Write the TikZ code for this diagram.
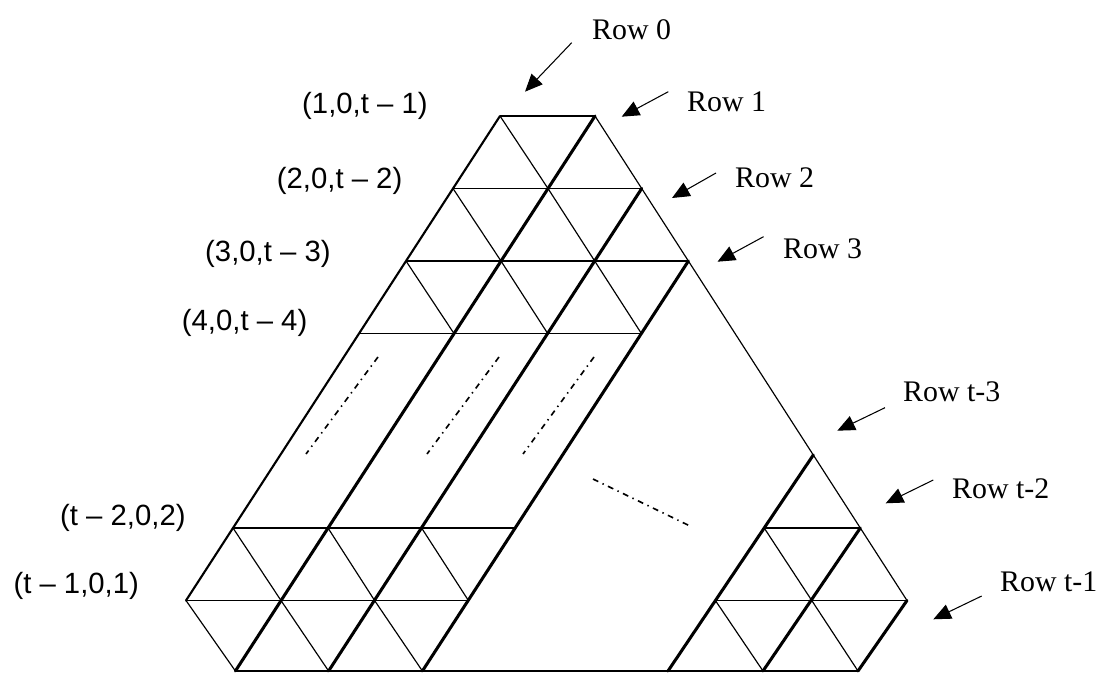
\documentclass[tikz,border=0pt]{standalone}
\usepackage{fontspec}
\setmainfont{Liberation Serif}
\newfontfamily\lsans{Liberation Sans}
\usetikzlibrary{arrows.meta}
\begin{document}
\begin{tikzpicture}[x=0.03cm,y=-0.03cm,
  latthin/.style={line width=1.0pt},
  latthick/.style={line width=2.6pt,line cap=round},
  latedge/.style={line width=1.8pt,line cap=round},
  lathor/.style={line width=1.6pt},
  dotline/.style={line width=1.4pt,dash pattern=on 5pt off 4pt on 1.2pt off 4pt},
  rowlab/.style={anchor=base west,inner sep=0pt,font=\fontsize{25.5}{30}\selectfont},
  coordlab/.style={anchor=base west,inner sep=0pt,font=\lsans\fontsize{25}{30}\selectfont},
  pointer/.style={line width=0.9pt,-{Triangle[length=15pt,width=13pt]}}
]
\useasboundingbox (0,0) rectangle (1113,675);
% lattice points
\coordinate (A0) at (500,116);   \coordinate (B0) at (595,116);
\coordinate (A1) at (453,188.5); \coordinate (B1) at (548,188.5); \coordinate (R1) at (641.7,188.5);
\coordinate (A2) at (406,261);   \coordinate (B2) at (501,261);   \coordinate (C2) at (594.7,261); \coordinate (R2) at (688.4,261);
\coordinate (A3) at (359,333.5); \coordinate (B3) at (454,333.5); \coordinate (C3) at (547.7,333.5); \coordinate (D3) at (641.4,333.5);
\coordinate (Aa) at (233,528);   \coordinate (Ba) at (328,528);   \coordinate (Ca) at (421.6,528); \coordinate (Da) at (515.4,528);
\coordinate (Ab) at (186,600.5); \coordinate (Bb) at (281,600.5); \coordinate (Cb) at (374.6,600.5); \coordinate (Db) at (468.4,600.5);
\coordinate (Bc) at (235.4,671); \coordinate (Cc) at (328.6,671); \coordinate (Dc) at (422.4,671);
% right part
\coordinate (P) at (813.3,455);
\coordinate (Ea) at (764.2,528); \coordinate (Ra) at (860.3,528);
\coordinate (Eb) at (715.4,600.5); \coordinate (Rb) at (907,600.5);
\coordinate (Ec0) at (668,671); \coordinate (Ec1) at (763,671); \coordinate (Ec2) at (858,671);
% horizontal lines
\draw[lathor] (A0) -- (B0);
\draw[lathor] (A1) -- (R1);
\draw[lathor] (A2) -- (R2);
\draw[lathor] (A3) -- (D3);
\draw[lathor] (Aa) -- (Da);
\draw[lathor] (Ab) -- (Db);
\draw[lathor] (Ea) -- (Ra);
\draw[lathor] (Eb) -- (Rb);
\draw[latedge] (Bc) -- (Ec2);
% thin down-right lines
\draw[latthin] (B0) -- (Rb);
\draw[latthin] (A0) -- (B1);
\draw[latthin] (A1) -- (B2);
\draw[latthin] (B1) -- (C2);
\draw[latthin] (A2) -- (B3);
\draw[latthin] (B2) -- (C3);
\draw[latthin] (C2) -- (D3);
\draw[latthin] (Aa) -- (Bb);
\draw[latthin] (Ba) -- (Cb);
\draw[latthin] (Ca) -- (Db);
\draw[latthin] (Ab) -- (Bc);
\draw[latthin] (Bb) -- (Cc);
\draw[latthin] (Cb) -- (Dc);
\draw[latthin] (Eb) -- (Ec1);
\draw[latthin] (Ea) -- (Ec2);
% thick up-right lines
\draw[latedge] (A0) -- (Ab);
\draw[latthick] (B0) -- (Bc);
\draw[latthick] (R1) -- (Cc);
\draw[latthick] (R2) -- (Dc);
\draw[latthick] (P) -- (Ec0);
\draw[latthick] (Ra) -- (Ec1);
\draw[latthick] (Rb) -- (Ec2);
% dotted continuation marks
\coordinate (d1a) at (378,357); \coordinate (d1b) at (306,454);
\coordinate (d2a) at (499,357); \coordinate (d2b) at (427,454);
\coordinate (d3a) at (594,357); \coordinate (d3b) at (523,454);
\coordinate (d4a) at (593,479); \coordinate (d4b) at (690,526);
\draw[dotline] (d1a) -- (d1b);
\draw[dotline] (d2a) -- (d2b);
\draw[dotline] (d3a) -- (d3b);
\draw[dotline] (d4a) -- (d4b);
% coordinate labels
\node[coordlab] (c1) at (302,113.3) {(1,0,t – 1)};
\node[coordlab] (c2) at (276.7,188.3) {(2,0,t – 2)};
\node[coordlab] (c3) at (205,261.7) {(3,0,t – 3)};
\node[coordlab] (c4) at (181.7,330) {(4,0,t – 4)};
\node[coordlab] (c5) at (60,525) {(t – 2,0,2)};
\node[coordlab] (c6) at (13.3,593.3) {(t – 1,0,1)};
% row labels
\node[rowlab] (r0) at (592,39.3) {Row 0};
\node[rowlab] (r1) at (687,111.7) {Row 1};
\node[rowlab] (r2) at (735,187) {Row 2};
\node[rowlab] (r3) at (783,258) {Row 3};
\node[rowlab] (rt3) at (903,401.7) {Row t-3};
\node[rowlab] (rt2) at (952,498.3) {Row t-2};
\node[rowlab] (rt1) at (1000,591.7) {Row t-1};
% arrows
\coordinate (s0) at (571.7,42.7);  \coordinate (t0) at (525,91.7);
\coordinate (s1) at (668.3,91.7);  \coordinate (t1) at (621.7,116.7);
\coordinate (s2) at (716,173);     \coordinate (t2) at (672,198);
\coordinate (s3) at (763.5,236.7); \coordinate (t3) at (717.5,261.7);
\coordinate (s4) at (885,407.7);   \coordinate (t4) at (837.3,430.7);
\coordinate (s5) at (933.3,480);   \coordinate (t5) at (885.7,503.3);
\coordinate (s6) at (981.7,596);   \coordinate (t6) at (933.3,619.3);
\draw[pointer] (s0) -- (t0);
\draw[pointer] (s1) -- (t1);
\draw[pointer] (s2) -- (t2);
\draw[pointer] (s3) -- (t3);
\draw[pointer] (s4) -- (t4);
\draw[pointer] (s5) -- (t5);
\draw[pointer] (s6) -- (t6);
\end{tikzpicture}
\end{document}
